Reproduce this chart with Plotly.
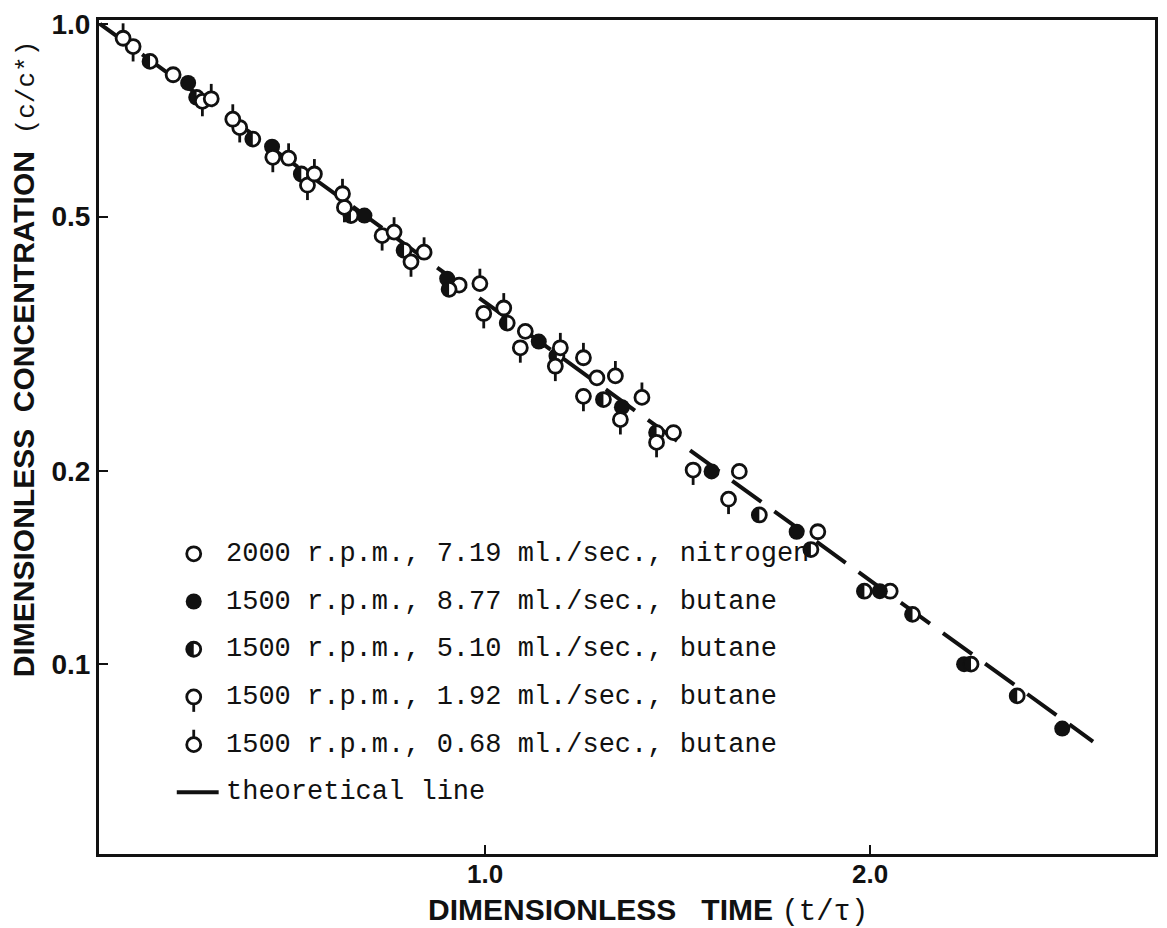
import numpy as np
import plotly.graph_objects as go

# ---------------------------------------------------------------- data
# dimensionless time t/tau and dimensionless concentration c/c* per run
t_n2_2000 = [0.190, 0.933, 1.105, 1.291, 1.490, 1.661, 1.865, 2.053]
c_n2_2000 = [0.833, 0.391, 0.331, 0.280, 0.230, 0.200, 0.161, 0.130]

t_bu_877 = [0.229, 0.447, 0.687, 0.902, 1.140, 1.356, 1.589, 1.810, 2.026,
            2.245, 2.500]
c_bu_877 = [0.809, 0.643, 0.502, 0.400, 0.319, 0.252, 0.200, 0.161, 0.130,
            0.100, 0.0793]

t_bu_510 = [0.130, 0.251, 0.397, 0.523, 0.652, 0.790, 0.907, 1.058, 1.187,
            1.308, 1.446, 1.713, 1.847, 1.986, 2.111, 2.263, 2.383]
c_bu_510 = [0.874, 0.768, 0.661, 0.583, 0.502, 0.443, 0.385, 0.341, 0.303,
            0.259, 0.230, 0.171, 0.151, 0.130, 0.1196, 0.100, 0.0892]

t_bu_192 = [0.086, 0.266, 0.363, 0.449, 0.539, 0.635, 0.733, 0.808, 0.997,
            1.092, 1.183, 1.256, 1.352, 1.446, 1.541, 1.633]
c_bu_192 = [0.922, 0.757, 0.689, 0.619, 0.560, 0.517, 0.467, 0.425, 0.353,
            0.312, 0.292, 0.262, 0.241, 0.222, 0.201, 0.181]

t_bu_068 = [0.060, 0.289, 0.345, 0.490, 0.557, 0.630, 0.764, 0.842, 0.987,
            1.049, 1.196, 1.256, 1.339, 1.408]
c_bu_068 = [0.950, 0.764, 0.710, 0.617, 0.583, 0.543, 0.473, 0.440, 0.393,
            0.360, 0.312, 0.301, 0.282, 0.261]

# theoretical washout line (straight on the semi-log grid)
t_theory = [0.0, 2.58]
c_theory = [1.0, 0.0757]

x_tick_vals = [1.0, 2.0]
x_tick_text = ["1.0", "2.0"]
y_tick_vals = [0.1, 0.2, 0.5, 1.0]
y_tick_text = ["0.1", "0.2", "0.5", "1.0"]

legend_labels = [
    "2000 r.p.m., 7.19 ml./sec., nitrogen",
    "1500 r.p.m., 8.77 ml./sec., butane",
    "1500 r.p.m., 5.10 ml./sec., butane",
    "1500 r.p.m., 1.92 ml./sec., butane",
    "1500 r.p.m., 0.68 ml./sec., butane",
]
theory_label = "theoretical line"

series = [
    (t_n2_2000, c_n2_2000, "open"),
    (t_bu_877, c_bu_877, "filled"),
    (t_bu_510, c_bu_510, "half"),
    (t_bu_192, c_bu_192, "tail_down"),
    (t_bu_068, c_bu_068, "tail_up"),
]

# ------------------------------------------------------------ geometry
W, H = 1167, 928
M_L, M_R, M_T, M_B = 99, 9, 15, 74
X_RANGE = [-0.0026, 2.741]
Y_RANGE = [-1.2966, 0.0062]          # log10(c/c*)
PW, PH = W - M_L - M_R, H - M_T - M_B
PX_PER_T = PW / (X_RANGE[1] - X_RANGE[0])
PX_PER_DEC = PH / (Y_RANGE[1] - Y_RANGE[0])

INK = "#111111"
R = 7.0          # circle radius, px
TAIL = 8.0       # tail length beyond the circle, px
STROKE = 2.8

MONO = "Liberation Mono"
SANS = "Liberation Sans"


def main_off(x, y, dx, dy):
    """Shift a data point by (dx, dy) screen pixels on the semi-log axes."""
    return x + dx / PX_PER_T, y * 10 ** (dy / PX_PER_DEC)


def key_off(x, y, dx, dy):
    """Shift a point by (dx, dy) pixels on the pixel overlay (y grows down)."""
    return x + dx, y - dy


def symbol_traces(xs, ys, kind, off, xa, ya):
    common = dict(xaxis=xa, yaxis=ya, showlegend=False, hoverinfo="skip")
    out = []
    if kind == "filled":
        out.append(go.Scatter(
            x=xs, y=ys, mode="markers",
            marker=dict(symbol="circle", size=2 * R + 2, color=INK,
                        line=dict(width=0)), **common))
        return out
    out.append(go.Scatter(
        x=xs, y=ys, mode="markers",
        marker=dict(symbol="circle", size=2 * R, color="white",
                    line=dict(color=INK, width=STROKE)), **common))
    if kind == "half":
        px, py = [], []
        ang = np.linspace(np.pi / 2, 3 * np.pi / 2, 25)
        for a, b in zip(xs, ys):
            for th in ang:
                u, v = off(a, b, R * np.cos(th), R * np.sin(th))
                px.append(u)
                py.append(v)
            px.append(None)
            py.append(None)
        out.append(go.Scatter(
            x=px, y=py, mode="lines", fill="toself", fillcolor=INK,
            line=dict(width=0.5, color=INK), **common))
    elif kind in ("tail_up", "tail_down"):
        s = 1 if kind == "tail_up" else -1
        px, py = [], []
        for a, b in zip(xs, ys):
            u0, v0 = off(a, b, 0, s * R)
            u1, v1 = off(a, b, 0, s * (R + TAIL))
            px += [u0, u1, None]
            py += [v0, v1, None]
        out.append(go.Scatter(
            x=px, y=py, mode="lines",
            line=dict(color=INK, width=STROKE), **common))
    return out


fig = go.Figure()

# theoretical line underneath the measurements
fig.add_trace(go.Scatter(
    x=t_theory, y=c_theory, mode="lines",
    line=dict(color=INK, width=4, dash="36px,16px"),
    showlegend=False, hoverinfo="skip"))

for t, c, kind in series:
    for tr in symbol_traces(list(t), list(c), kind, main_off, "x", "y"):
        fig.add_trace(tr)

# -------------------------------------------------------------- legend
KEY_X = 194 - M_L
TEXT_X = 224 - M_L
ROW_Y = [552 - M_T + 48 * i for i in range(len(legend_labels))]
THEORY_Y = ROW_Y[-1] + 48

for (t, c, kind), label, ry in zip(series, legend_labels, ROW_Y):
    for tr in symbol_traces([KEY_X], [ry], kind, key_off, "x2", "y2"):
        fig.add_trace(tr)
    fig.add_annotation(x=TEXT_X, y=ry, xref="x2", yref="y2", text=label,
                       showarrow=False, xanchor="left", yanchor="middle",
                       font=dict(family=MONO, size=27, color=INK))

fig.add_trace(go.Scatter(
    x=[KEY_X - 17, KEY_X + 25], y=[THEORY_Y, THEORY_Y], mode="lines",
    line=dict(color=INK, width=4), xaxis="x2", yaxis="y2",
    showlegend=False, hoverinfo="skip"))
fig.add_annotation(x=TEXT_X, y=THEORY_Y, xref="x2", yref="y2",
                   text=theory_label, showarrow=False, xanchor="left",
                   yanchor="middle", font=dict(family=MONO, size=27, color=INK))

# -------------------------------------------------------------- titles
def paper_x(px):
    return (px - M_L) / PW


def paper_y(py):
    return 1 - (py - M_T) / PH


mono_span = ("<span style='font-family:{f};font-weight:normal;"
             "font-size:{s}px'>{t}</span>")

fig.add_annotation(
    x=paper_x(25), y=paper_y(356), xref="paper", yref="paper",
    text="DIMENSIONLESS\u00a0\u00a0CONCENTRATION\u00a0\u00a0"
         + mono_span.format(f=MONO, s=26, t="(c/c*)"),
    textangle=-90, showarrow=False, xanchor="center", yanchor="middle",
    font=dict(family=SANS, size=30, color=INK, weight="bold"))

# x tick labels, placed on the x scale just under the frame
for v, txt in zip(x_tick_vals, x_tick_text):
    fig.add_annotation(
        x=v, y=paper_y(874), xref="x", yref="paper", text=txt,
        showarrow=False, xanchor="center", yanchor="middle",
        font=dict(family=SANS, size=26, color=INK, weight="bold"))

fig.add_annotation(
    x=paper_x(650), y=paper_y(911), xref="paper", yref="paper",
    text="DIMENSIONLESS\u00a0\u00a0\u00a0TIME\u00a0"
         + mono_span.format(f=MONO, s=29, t="(t/\u03c4)"),
    showarrow=False, xanchor="center", yanchor="middle",
    font=dict(family=SANS, size=30, color=INK, weight="bold"))

axis_common = dict(showline=True, linecolor=INK, linewidth=3, mirror=True,
                   ticks="inside", ticklen=9, tickwidth=2, tickcolor=INK,
                   showgrid=False, zeroline=False,
                   tickfont=dict(family=SANS, size=28, color=INK,
                                 weight="bold"))

fig.update_layout(
    width=W, height=H,
    margin=dict(l=M_L, r=M_R, t=M_T, b=M_B),
    paper_bgcolor="white", plot_bgcolor="white",
    showlegend=False,
    xaxis=dict(range=X_RANGE, tickvals=x_tick_vals, showticklabels=False,
               **axis_common),
    yaxis=dict(type="log", range=Y_RANGE, tickvals=y_tick_vals,
               ticktext=y_tick_text, **axis_common),
    xaxis2=dict(overlaying="x", range=[0, PW], visible=False, anchor="y2"),
    yaxis2=dict(overlaying="y", range=[PH, 0], visible=False, anchor="x2"),
)

fig.write_html("out.html")
